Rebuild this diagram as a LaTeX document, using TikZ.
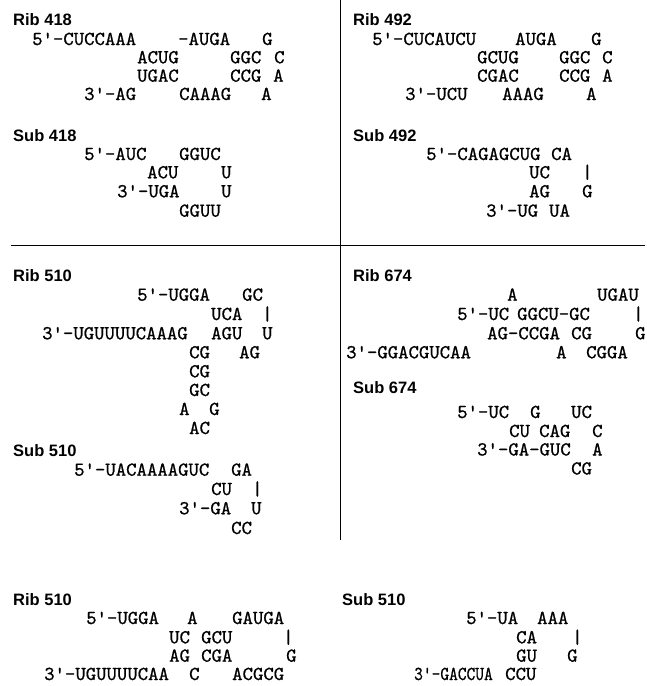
\documentclass[tikz,border=0pt]{standalone}
\usepackage{fontspec}
\setsansfont{Liberation Sans}
\newfontfamily\seqfont{lmmono10-regular.otf}[FakeBold=0.8]
\newcommand{\pq}{\textquotesingle}
\tikzset{
  seq/.style={anchor=base west, inner sep=0pt, xshift=-1pt, font=\seqfont\fontsize{19.8}{20}\selectfont},
  lbl/.style={anchor=base west, inner sep=0pt, font=\sffamily\bfseries\fontsize{16.5}{18}\selectfont},
  rule/.style={line width=1.2pt, black}
}
\begin{document}
\begin{tikzpicture}[x=1pt,y=-1pt]
\useasboundingbox (0,0) rectangle (647,686);
% separators
\coordinate (vt) at (340.5,0);
\coordinate (vb) at (340.5,540);
\coordinate (hl) at (11,245.5);
\coordinate (hr) at (645,245.5);
\draw[rule] (vt) -- (vb);
\draw[rule] (hl) -- (hr);

% ---- Rib 418
\node[lbl] (l1) at (13,25) {Rib 418};
\node[seq] (a11) at (33,45) {5\pq-CUCCAAA};
\node[seq] (a12) at (179,45) {-AUGA};
\node[seq] (a13) at (263,45) {G};
\node[seq] (a21) at (138,63.3) {ACUG};
\node[seq] (a22) at (231,63.3) {GGC};
\node[seq] (a23) at (275,63.3) {C};
\node[seq] (a31) at (138,81.7) {UGAC};
\node[seq] (a32) at (231,81.7) {CCG};
\node[seq] (a33) at (274,81.7) {A};
\node[seq] (a41) at (85,100) {3\pq-AG};
\node[seq] (a42) at (180,100) {CAAAG};
\node[seq] (a43) at (262,100) {A};

% ---- Sub 418
\node[lbl] (l2) at (13,141.7) {Sub 418};
\node[seq] (b11) at (85,160) {5\pq-AUC};
\node[seq] (b12) at (180,160) {GGUC};
\node[seq] (b21) at (148,178.3) {ACU};
\node[seq] (b22) at (222,178.3) {U};
\node[seq] (b31) at (118,197.3) {3\pq-UGA};
\node[seq] (b32) at (222,197.3) {U};
\node[seq] (b41) at (180,216.7) {GGUU};

% ---- Rib 492
\node[lbl] (l3) at (353,25) {Rib 492};
\node[seq] (c11) at (373,45) {5\pq-CUCAUCU};
\node[seq] (c12) at (516,45) {AUGA};
\node[seq] (c13) at (592,45) {G};
\node[seq] (c21) at (478,63.3) {GCUG};
\node[seq] (c22) at (560,63.3) {GGC};
\node[seq] (c23) at (603,63.3) {C};
\node[seq] (c31) at (478,81.7) {CGAC};
\node[seq] (c32) at (560,81.7) {CCG};
\node[seq] (c33) at (603,81.7) {A};
\node[seq] (c41) at (406,100) {3\pq-UCU};
\node[seq] (c42) at (503,100) {AAAG};
\node[seq] (c43) at (587,100) {A};

% ---- Sub 492
\node[lbl] (l4) at (353,141.7) {Sub 492};
\node[seq] (d11) at (427,160) {5\pq-CAGAGCUG};
\node[seq] (d12) at (552,160) {CA};
\node[seq] (d21) at (530,178.3) {UC};
\node[seq] (d22) at (583,178.3) {|};
\node[seq] (d31) at (530,197.3) {AG};
\node[seq] (d32) at (583,197.3) {G};
\node[seq] (d41) at (487,216.7) {3\pq-UG};
\node[seq] (d42) at (550,216.7) {UA};

% ---- Rib 510 (middle left)
\node[lbl] (l5) at (13,281.7) {Rib 510};
\node[seq] (e11) at (138,300.7) {5\pq-UGGA};
\node[seq] (e12) at (243,300.7) {GC};
\node[seq] (e21) at (212,320) {UCA};
\node[seq] (e22) at (263,320) {|};
\node[seq] (e31) at (43,339.3) {3\pq-UGUUUUCAAAG};
\node[seq] (e32) at (212,339.3) {AGU};
\node[seq] (e33) at (263,339.3) {U};
\node[seq] (e41) at (190,358.3) {CG};
\node[seq] (e42) at (240,358.3) {AG};
\node[seq] (e51) at (190,377.3) {CG};
\node[seq] (e61) at (190,396) {GC};
\node[seq] (e71) at (180,415) {A};
\node[seq] (e72) at (210,415) {G};
\node[seq] (e81) at (190,434) {AC};

% ---- Sub 510 (middle left)
\node[lbl] (l6) at (13,456.7) {Sub 510};
\node[seq] (f11) at (75,475.7) {5\pq-UACAAAAGUC};
\node[seq] (f12) at (232,475.7) {GA};
\node[seq] (f21) at (212,495) {CU};
\node[seq] (f22) at (253,495) {|};
\node[seq] (f31) at (180,514.3) {3\pq-GA};
\node[seq] (f32) at (252,514.3) {U};
\node[seq] (f41) at (232,534) {CC};

% ---- Rib 674
\node[lbl] (l7) at (353,281.7) {Rib 674};
\node[seq] (g11) at (508,300.7) {A};
\node[seq] (g12) at (598,300.7) {UGAU};
\node[seq] (g21) at (458,320) {5\pq-UC};
\node[seq] (g22) at (518,320) {GGCU-GC};
\node[seq] (g23) at (634,320) {|};
\node[seq] (g31) at (488,339.3) {AG-CCGA};
\node[seq] (g32) at (572,339.3) {CG};
\node[seq] (g33) at (636,339.3) {G};
\node[seq] (g41) at (347,358.3) {3\pq-GGACGUCAA};
\node[seq] (g42) at (557,358.3) {A};
\node[seq] (g43) at (587,358.3) {CGGA};

% ---- Sub 674
\node[lbl] (l8) at (353,393.3) {Sub 674};
\node[seq] (h11) at (458,418) {5\pq-UC};
\node[seq] (h12) at (531,418) {G};
\node[seq] (h13) at (572,418) {UC};
\node[seq] (h21) at (510,437) {CU};
\node[seq] (h22) at (540,437) {CAG};
\node[seq] (h23) at (593,437) {C};
\node[seq] (h31) at (478,455.5) {3\pq-GA-GUC};
\node[seq] (h32) at (593,455.5) {A};
\node[seq] (h41) at (572,474.5) {CG};

% ---- Rib 510 (bottom)
\node[lbl] (l9) at (13,605) {Rib 510};
\node[seq] (i11) at (87,624) {5\pq-UGGA};
\node[seq] (i12) at (188,624) {A};
\node[seq] (i13) at (233,624) {GAUGA};
\node[seq] (i21) at (170,643.3) {UC};
\node[seq] (i22) at (202,643.3) {GCU};
\node[seq] (i23) at (284,643.3) {|};
\node[seq] (i31) at (170,661.7) {AG};
\node[seq] (i32) at (202,661.7) {CGA};
\node[seq] (i33) at (287,661.7) {G};
\node[seq] (i41) at (45,680) {3\pq-UGUUUUCAA};
\node[seq] (i42) at (190,680) {C};
\node[seq] (i43) at (233,680) {ACGCG};

% ---- Sub 510 (bottom)
\node[lbl] (l10) at (342,605) {Sub 510};
\node[seq] (j11) at (467,624) {5\pq-UA};
\node[seq] (j12) at (538,624) {AAA};
\node[seq] (j21) at (517,643.3) {CA};
\node[seq] (j22) at (573,643.3) {|};
\node[seq] (j31) at (517,661.7) {GU};
\node[seq] (j32) at (568,661.7) {G};
\node[seq] (j41) at (415,680) {\scalebox{0.84}[1]{3\pq-GACCUA}};
\node[seq] (j42) at (506,680) {CCU};
\end{tikzpicture}
\end{document}
